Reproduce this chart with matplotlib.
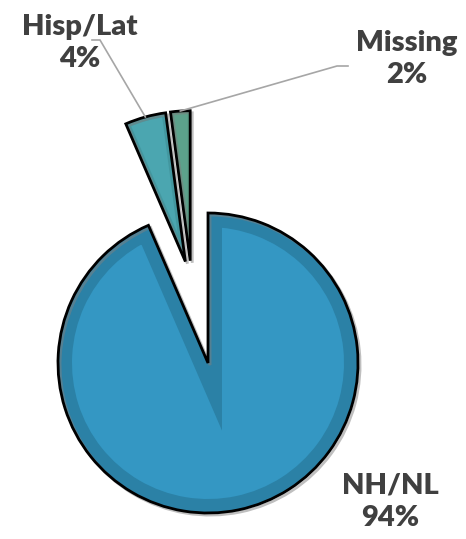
import numpy as np
import matplotlib
matplotlib.use("Agg")
import matplotlib.pyplot as plt
import matplotlib.patches as mpatches
import matplotlib.patheffects as pe

# ---- data ----
categories = ["NH/NL", "Hisp/Lat", "Missing"]
values = [93.5, 4.4, 2.1]          # slice sizes
pct_labels = ["94%", "4%", "2%"]   # printed labels

# ---- style ----
inner_colors = ["#3497C3", "#4BA6B0", "#5CA28B"]
band_colors = ["#2B81A6", "#43979F", "#55977F"]
band_width = [28, 8, 5]   # px (stroke width, half shows inside)

W, H = 466, 539
fig = plt.figure(figsize=(W / 100, H / 100), dpi=100)
ax = fig.add_axes([0, 0, 1, 1])

R = 150
center = (208, H - 363)
wedges, _ = ax.pie(values, startangle=90, counterclock=False, radius=R,
                   center=center, explode=[0, 24, 24], colors=inner_colors)

# explode the two small slices further together as a group
grp = wedges[1:]
a0 = min(w.theta1 for w in grp)
a1 = max(w.theta2 for w in grp)
amid = np.deg2rad((a0 + a1) / 2)
gshift = 80
for w in grp:
    cx, cy = w.center
    w.set_center((cx + gshift * np.cos(amid), cy + gshift * np.sin(amid)))

for i, w in enumerate(wedges):
    w.set_facecolor(inner_colors[i])
    w.set_edgecolor(band_colors[i])
    w.set_linewidth(band_width[i] * 72 / 100)
    w.set_clip_on(True)
    w.set_clip_path(w)
    outline = mpatches.Wedge(w.center, w.r, w.theta1, w.theta2, fill=False,
                             ec="black", lw=2.0, joinstyle="miter", zorder=3)
    outline.set_path_effects([pe.SimpleLineShadow(offset=(1.5, -1.5),
                                                  shadow_color="gray", alpha=0.5),
                              pe.Normal()])
    ax.add_patch(outline)

txt_color = "#404040"
line_color = "#A6A6A6"
font = dict(family=["Lato", "DejaVu Sans"], fontweight="heavy", fontsize=21,
            color=txt_color, ha="center", va="center", linespacing=1.3)

label_pos = [(390, H - 502), (80, H - 43), (407, H - 59)]
leader = [None, [(92, H - 40), (100, H - 40)], [(348, H - 66), (337, H - 66)]]
for i, w in enumerate(wedges):
    ax.text(*label_pos[i], f"{categories[i]}\n{pct_labels[i]}", **font)
    if leader[i] is not None:
        ang = np.deg2rad((w.theta1 + w.theta2) / 2)
        px = w.center[0] + w.r * np.cos(ang)
        py = w.center[1] + w.r * np.sin(ang)
        pts = leader[i] + [(px, py)]
        ax.plot([p[0] for p in pts], [p[1] for p in pts], color=line_color,
                lw=1.2, zorder=4, solid_joinstyle="miter")

ax.set_xlim(0, W)
ax.set_ylim(0, H)
ax.set_aspect("equal")
ax.set_axis_off()
fig.savefig("out.png", dpi=100)
